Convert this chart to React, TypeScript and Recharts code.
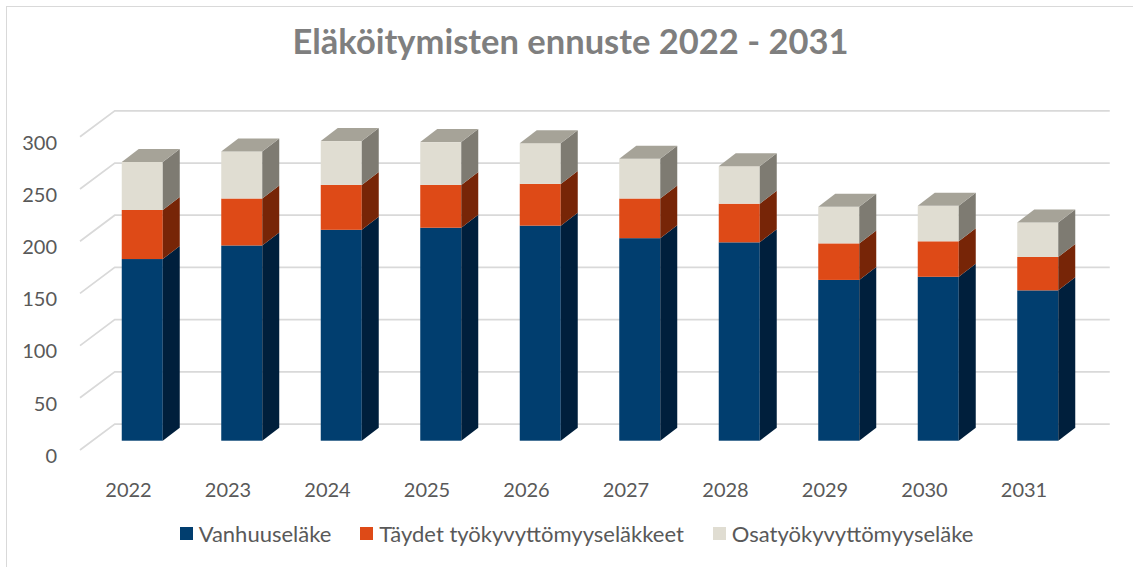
import React from 'react'
import { BarChart, Bar, XAxis, YAxis, CartesianGrid, Legend } from 'recharts'

const years = ['2022', '2023', '2024', '2025', '2026', '2027', '2028', '2029', '2030', '2031']
const vanhuus = [174, 187, 202, 204, 206, 194, 190, 154, 157, 144]
const taydet = [47, 45, 43, 41, 40, 38, 37, 35, 34, 32]
const osa = [46, 45, 42, 41, 39, 38, 36, 35, 34, 33]
const yTicks = [0, 50, 100, 150, 200, 250, 300]

const FONT = 'Lato, "Open Sans", sans-serif'
const TEXT = '#595959'
const GRID = '#d9d9d9'

// 3D depth of the bars and of the back wall
const DX = 17
const DY = 13
const WALL_DX = 22
const WALL_DY = 16.7

const SERIES = [
  { key: 'vanhuus', name: 'Vanhuuseläke', front: '#013e6f', side: '#001f3c', top: '#1d4f7c' },
  { key: 'taydet', name: 'Täydet työkyvyttömyyseläkkeet', front: '#de4a17', side: '#772507', top: '#a83a12' },
  { key: 'osa', name: 'Osatyökyvyttömyyseläke', front: '#e0ddd2', side: '#7e7b72', top: '#a6a398' },
]

const data = years.map((y, i) => ({ year: y, vanhuus: vanhuus[i], taydet: taydet[i], osa: osa[i] }))

// eslint-disable-next-line @typescript-eslint/no-explicit-any
const makeShape = (s: typeof SERIES[number], withTop: boolean) => (p: any) => {
  const { x, y, width: w, height: h } = p
  if (!h || h <= 0) return <g />
  return (
    <g>
      <rect x={x} y={y} width={w} height={h} fill={s.front} />
      <polygon
        points={`${x + w},${y} ${x + w + DX},${y - DY} ${x + w + DX},${y + h - DY} ${x + w},${y + h}`}
        fill={s.side}
      />
      {withTop && (
        <polygon
          points={`${x},${y} ${x + DX},${y - DY} ${x + w + DX},${y - DY} ${x + w},${y}`}
          fill={s.top}
        />
      )}
    </g>
  )
}

// eslint-disable-next-line @typescript-eslint/no-explicit-any
const gridLine = (p: any) => {
  const { x1, x2, y1, index } = p
  return (
    <polyline
      key={`g-${index}`}
      points={`${x1 - 12.75},${y1 + 9.3} ${x1 + WALL_DX},${y1 - WALL_DY} ${x2 + WALL_DX},${y1 - WALL_DY}`}
      fill="none"
      stroke={GRID}
      strokeWidth={1.75}
    />
  )
}

// eslint-disable-next-line @typescript-eslint/no-explicit-any
const YTick = ({ y, payload }: any) => (
  <text x={57} y={y + 14} textAnchor="end" dominantBaseline="central" fill={TEXT} fontSize={20} fontFamily={FONT}>
    {payload.value}
  </text>
)

// eslint-disable-next-line @typescript-eslint/no-explicit-any
const XTick = ({ x, y, payload }: any) => (
  <text x={x - 14} y={y + 48} textAnchor="middle" dominantBaseline="central" fill={TEXT} fontSize={20} fontFamily={FONT}>
    {payload.value}
  </text>
)

const LegendContent = () => (
  <div style={{ display: 'flex', justifyContent: 'center', gap: 29, fontFamily: FONT, fontSize: 22, color: TEXT }}>
    {SERIES.map(s => (
      <div key={s.key} style={{ display: 'flex', alignItems: 'center', gap: 6 }}>
        <span style={{ width: 13, height: 13, background: s.front, display: 'inline-block' }} />
        <span>{s.name}</span>
      </div>
    ))}
  </div>
)

export default function App() {
  return (
    <div style={{ position: 'relative', width: 1133, height: 567, overflow: 'hidden', background: '#fff' }}>
      <style>{'body{margin:0}'}</style>
      <div style={{
        position: 'absolute', left: 6, top: 6, width: 1160, height: 600,
        border: `1.5px solid ${GRID}`, boxSizing: 'border-box',
      }} />
      <div style={{
        position: 'absolute', top: 20, left: 0, width: 1141, textAlign: 'center',
        fontFamily: FONT, fontWeight: 700, fontSize: 34.5, color: '#7f7f7f',
      }}>
        Eläköitymisten ennuste 2022 - 2031
      </div>
      <div style={{ position: 'absolute', left: 0, top: 0 }}>
        <BarChart
          width={1133}
          height={567}
          data={data}
          margin={{ top: 127.5, right: 45.25, left: 0, bottom: 86.3 }}
        >
          <CartesianGrid vertical={false} horizontal={gridLine} />
          <XAxis
            dataKey="year"
            axisLine={false}
            tickLine={false}
            tickSize={0}
            tickMargin={0}
            height={40}
            tick={<XTick />}
            interval={0}
          />
          <YAxis
            domain={[0, 300]}
            ticks={yTicks}
            axisLine={false}
            tickLine={false}
            tickSize={0}
            width={92.75}
            tick={<YTick />}
          />
          <Legend
            verticalAlign="middle"
            align="center"
            layout="horizontal"
            wrapperStyle={{ top: 520, left: 10, width: 1133 }}
            content={<LegendContent />}
          />
          {SERIES.map((s, i) => (
            <Bar
              key={s.key}
              dataKey={s.key}
              name={s.name}
              stackId="a"
              barSize={41}
              fill={s.front}
              shape={makeShape(s, i === SERIES.length - 1)}
              isAnimationActive={false}
            />
          ))}
        </BarChart>
      </div>
    </div>
  )
}
